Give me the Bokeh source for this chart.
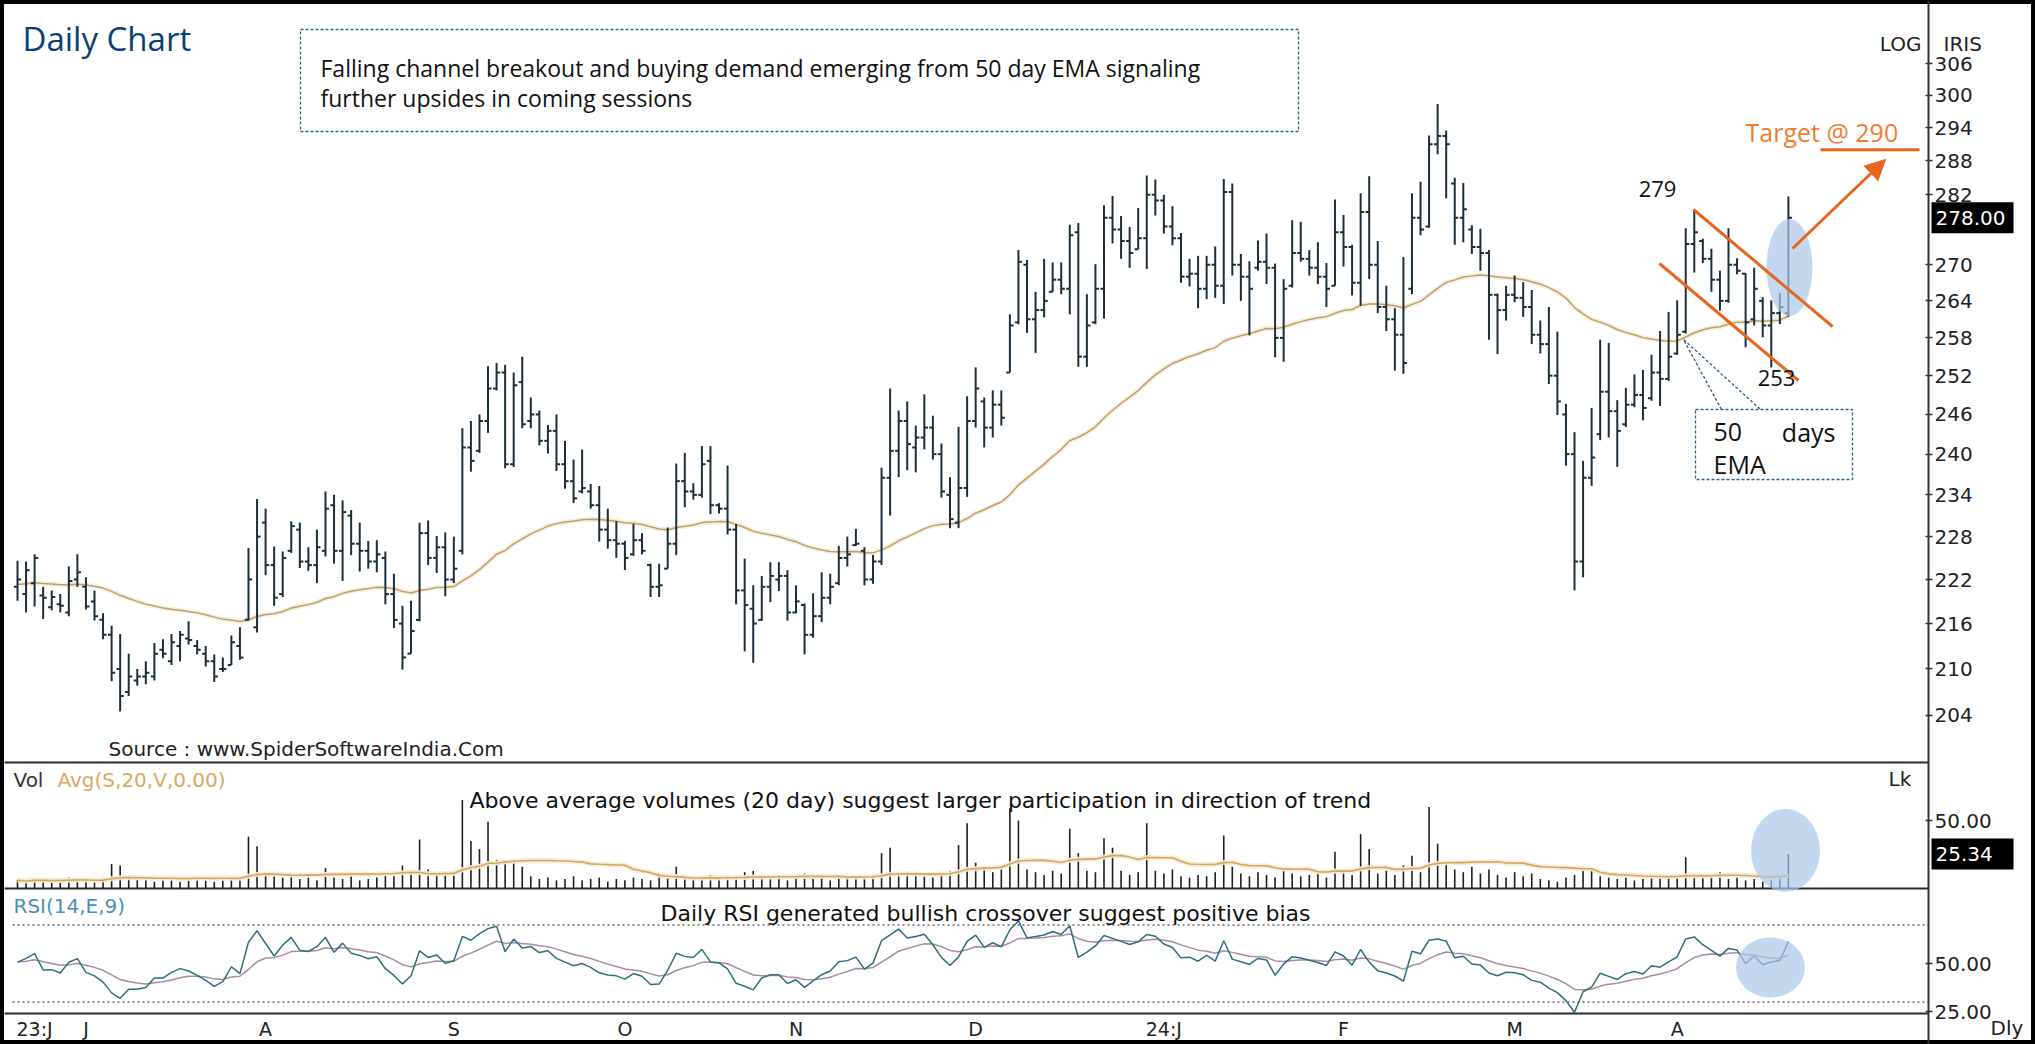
import math
from bokeh.plotting import figure
from bokeh.models import (Range1d, LinearScale, LogAxis, LinearAxis, FixedTicker,
                          PrintfTickFormatter, Arrow, NormalHead)
from bokeh.core.properties import value
from bokeh.embed import file_html
from bokeh.resources import INLINE

# ---------------------------------------------------------------- data
highs = [
    224.6, 224.5, 225.5, 221.0, 220.5, 220.0, 223.8, 225.5, 222.3, 220.5,
    217.4, 215.7, 214.6, 212.0, 210.0, 211.0, 213.4, 213.9, 214.6, 215.0,
    216.3, 213.8, 213.0, 211.9, 211.5, 214.4, 215.5, 226.4, 233.4, 232.0,
    226.6, 225.9, 230.2, 230.0, 226.5, 229.0, 234.5, 234.0, 233.2, 231.8,
    230.0, 227.4, 227.5, 225.9, 222.8, 218.4, 219.1, 230.0, 230.3, 228.1,
    228.6, 228.0, 243.9, 245.0, 246.0, 253.5, 254.0, 253.7, 252.5, 255.0,
    248.6, 246.6, 244.4, 246.0, 242.0, 239.2, 240.7, 235.6, 235.3, 232.0,
    230.2, 227.4, 229.8, 228.5, 224.2, 224.2, 229.3, 238.6, 240.2, 235.7,
    241.2, 241.2, 232.8, 238.3, 229.8, 224.9, 221.2, 222.5, 224.4, 224.4,
    223.3, 221.2, 218.7, 220.1, 223.0, 222.8, 226.7, 228.0, 229.1, 226.5,
    225.4, 238.0, 250.0, 246.6, 248.0, 244.3, 249.1, 245.8, 241.6, 236.6,
    244.1, 248.8, 253.3, 248.6, 249.7, 249.7, 261.8, 272.5, 270.8, 265.5,
    271.0, 270.4, 270.4, 276.8, 277.1, 265.1, 270.1, 280.2, 281.8, 278.3,
    276.4, 279.7, 285.4, 284.7, 282.0, 280.0, 275.4, 271.0, 271.5, 271.5,
    273.1, 284.8, 284.0, 271.8, 270.6, 274.1, 275.3, 270.2, 267.6, 277.6,
    277.3, 272.5, 273.8, 270.3, 281.2, 278.5, 273.4, 282.3, 285.3, 274.0,
    266.5, 262.8, 271.3, 282.3, 284.3, 292.6, 298.4, 293.5, 285.0, 284.1,
    276.7, 276.1, 272.5, 265.2, 266.5, 268.2, 267.1, 265.8, 260.8, 263.0,
    259.0, 247.6, 243.3, 239.0, 247.0, 257.7, 257.2, 248.2, 250.1, 252.2,
    252.9, 255.3, 259.1, 262.2, 264.1, 276.2, 279.4, 274.4, 272.7, 269.0,
    276.2, 271.1, 268.6, 269.5, 264.6, 264.1, 265.3, 281.7,
]
lows = [
    219.1, 217.5, 218.3, 216.6, 217.8, 217.5, 217.0, 221.0, 217.9, 216.4,
    213.9, 208.4, 204.5, 206.5, 207.8, 208.0, 208.5, 211.4, 210.5, 211.0,
    213.2, 211.9, 210.3, 208.3, 209.6, 210.5, 211.2, 216.4, 214.8, 222.6,
    218.4, 219.6, 225.7, 223.6, 223.2, 221.5, 225.2, 224.2, 221.8, 225.4,
    223.1, 223.5, 223.0, 218.6, 215.4, 209.9, 212.0, 216.3, 224.0, 222.9,
    219.7, 221.5, 225.5, 237.4, 240.2, 243.2, 249.7, 237.9, 238.1, 243.9,
    243.9, 241.3, 240.1, 237.5, 234.9, 232.8, 234.2, 232.0, 227.3, 226.3,
    225.0, 223.3, 225.3, 225.5, 219.6, 219.6, 223.5, 225.4, 232.2, 233.3,
    233.6, 231.2, 231.3, 228.3, 218.6, 212.3, 210.8, 216.4, 218.9, 220.4,
    216.4, 217.4, 211.9, 214.1, 216.2, 218.6, 221.2, 223.8, 226.7, 221.2,
    221.4, 224.0, 231.0, 236.6, 237.6, 237.3, 240.7, 239.2, 233.6, 229.2,
    229.2, 233.7, 244.0, 241.0, 242.5, 244.3, 252.5, 260.2, 258.8, 255.6,
    261.3, 265.5, 265.1, 261.8, 253.4, 253.4, 260.2, 261.1, 273.6, 271.0,
    269.5, 272.6, 269.3, 278.4, 275.3, 273.3, 267.0, 266.4, 262.8, 264.3,
    264.5, 263.5, 268.2, 264.0, 258.4, 269.0, 266.8, 254.9, 254.2, 266.2,
    270.5, 268.2, 266.8, 263.0, 266.5, 269.7, 264.9, 263.2, 267.6, 262.0,
    259.1, 252.8, 252.3, 265.1, 275.0, 276.3, 289.2, 281.4, 273.4, 273.8,
    271.8, 269.0, 257.7, 255.4, 260.8, 263.8, 261.4, 257.0, 255.5, 250.7,
    245.9, 238.3, 220.5, 222.3, 235.3, 242.1, 242.5, 238.1, 244.1, 247.1,
    245.1, 248.1, 247.3, 251.2, 255.3, 258.7, 268.7, 270.3, 265.5, 262.4,
    263.7, 268.4, 256.5, 260.0, 258.1, 253.3, 260.2, 261.4,
]
opens = [
    221.0, 220.0, 221.5, 219.8, 218.2, 218.6, 217.5, 222.0, 221.0, 219.0,
    216.5, 214.5, 210.0, 207.0, 208.5, 209.0, 209.0, 212.5, 211.0, 213.0,
    214.0, 213.0, 212.0, 211.0, 210.0, 210.5, 213.0, 216.5, 215.5, 230.0,
    224.0, 220.0, 226.0, 229.0, 224.5, 224.0, 226.0, 232.5, 226.0, 231.0,
    227.0, 226.0, 224.5, 225.0, 220.0, 216.0, 212.0, 216.5, 228.5, 225.0,
    226.5, 222.0, 226.0, 241.0, 240.5, 245.0, 250.0, 252.5, 238.5, 251.0,
    245.0, 246.0, 242.0, 243.5, 238.5, 236.0, 234.5, 234.5, 232.5, 229.0,
    227.5, 227.0, 225.5, 227.5, 224.0, 221.0, 223.5, 227.0, 236.0, 234.5,
    234.0, 239.0, 232.5, 232.0, 229.0, 220.5, 218.0, 216.5, 221.0, 222.0,
    222.5, 217.5, 218.5, 214.5, 217.0, 219.5, 221.5, 225.0, 226.8, 226.0,
    222.0, 224.5, 236.5, 240.5, 245.0, 241.0, 242.5, 244.0, 240.0, 234.0,
    230.0, 235.0, 245.0, 248.0, 244.0, 247.5, 252.5, 260.5, 270.0, 261.0,
    262.5, 265.5, 267.5, 266.0, 275.5, 255.0, 260.5, 266.0, 278.0, 276.0,
    274.0, 272.6, 274.5, 282.0, 281.0, 276.5, 274.5, 268.0, 268.5, 266.0,
    270.0, 266.5, 282.5, 270.0, 268.0, 269.5, 270.5, 269.5, 258.0, 266.5,
    272.0, 271.0, 269.5, 268.0, 266.5, 275.5, 273.0, 267.0, 279.0, 270.0,
    263.0, 261.0, 258.5, 266.0, 278.0, 276.5, 291.0, 292.5, 284.0, 278.0,
    276.0, 273.0, 272.0, 265.0, 262.5, 265.0, 264.5, 263.0, 258.5, 257.0,
    252.0, 246.0, 240.0, 224.5, 236.5, 243.0, 249.5, 246.5, 244.5, 247.5,
    249.0, 248.5, 252.5, 251.5, 255.5, 259.0, 273.5, 274.0, 271.0, 267.5,
    264.0, 270.0, 268.5, 261.0, 264.0, 260.0, 262.0, 262.0,
]
closes = [
    222.0, 223.3, 225.0, 219.5, 219.6, 218.4, 221.8, 223.0, 218.3, 217.0,
    214.5, 209.5, 206.5, 209.0, 209.0, 209.5, 212.0, 212.0, 213.5, 214.5,
    213.8, 212.5, 211.0, 209.0, 210.0, 213.5, 211.5, 222.0, 228.0, 224.0,
    219.5, 225.0, 229.5, 224.5, 224.0, 226.5, 232.0, 226.0, 231.5, 227.0,
    226.0, 224.5, 225.5, 220.0, 216.5, 211.5, 215.0, 228.5, 225.0, 226.5,
    222.0, 223.5, 241.0, 239.0, 245.0, 250.0, 252.5, 238.5, 250.5, 244.5,
    246.0, 242.0, 243.5, 238.5, 236.0, 233.5, 235.0, 232.5, 229.0, 227.5,
    227.0, 225.0, 227.5, 226.0, 221.0, 221.2, 227.0, 236.0, 234.5, 234.0,
    238.5, 232.5, 232.0, 229.0, 220.5, 218.5, 216.0, 221.0, 222.5, 222.5,
    217.5, 219.0, 214.5, 217.0, 219.5, 221.0, 225.0, 225.5, 227.0, 222.0,
    224.5, 236.5, 240.5, 245.0, 241.5, 242.5, 244.0, 240.0, 234.5, 230.5,
    235.0, 245.0, 250.0, 244.0, 247.5, 245.5, 260.0, 270.5, 261.0, 262.5,
    264.0, 267.5, 266.0, 275.0, 255.0, 260.0, 266.0, 278.0, 276.0, 274.0,
    272.0, 274.5, 282.0, 281.0, 276.5, 274.5, 268.0, 268.5, 266.0, 270.0,
    266.5, 282.5, 270.0, 268.0, 266.0, 270.5, 269.5, 258.0, 266.0, 272.0,
    271.0, 269.5, 268.0, 266.0, 275.5, 273.0, 267.0, 279.0, 270.0, 263.0,
    261.0, 258.5, 254.0, 278.0, 276.0, 291.0, 292.5, 291.0, 278.0, 279.5,
    273.0, 272.0, 265.0, 262.5, 265.0, 264.5, 263.0, 258.5, 257.0, 252.0,
    248.0, 240.0, 224.5, 236.5, 239.5, 249.5, 246.5, 243.5, 247.5, 249.0,
    247.0, 252.5, 251.5, 255.0, 258.5, 273.5, 275.5, 271.0, 267.5, 264.0,
    270.0, 269.0, 260.5, 266.0, 260.0, 262.0, 263.0, 278.0,
]
volume = [  # lakh shares
    6, 5, 7, 6, 5, 6, 8, 7, 6, 5,
    7, 18, 17, 9, 7, 6, 5, 6, 7, 5,
    6, 8, 6, 5, 6, 7, 6, 38, 31, 12,
    9, 8, 10, 7, 8, 6, 15, 8, 7, 9,
    6, 7, 8, 10, 9, 17, 12, 36, 14, 10,
    12, 11, 65, 35, 29, 49, 21, 21, 20, 16,
    9, 7, 8, 6, 7, 9, 6, 7, 8, 5,
    7, 6, 8, 7, 6, 9, 8, 16, 9, 7,
    8, 10, 7, 9, 8, 12, 13, 8, 7, 9,
    6, 8, 11, 7, 8, 6, 9, 8, 7, 9,
    10, 26, 30, 11, 12, 10, 9, 8, 10, 13,
    32, 48, 19, 14, 12, 15, 59, 50, 14, 12,
    10, 13, 11, 44, 26, 13, 12, 37, 30, 13,
    10, 12, 48, 13, 11, 14, 9, 8, 10, 9,
    12, 39, 16, 11, 9, 12, 10, 8, 13, 11,
    9, 10, 12, 8, 27, 12, 10, 40, 29, 11,
    13, 10, 17, 24, 12, 60, 33, 18, 14, 12,
    16, 11, 14, 10, 8, 12, 9, 11, 7, 6,
    5, 8, 10, 14, 13, 9, 8, 7, 8, 6,
    7, 9, 10, 8, 9, 23, 10, 8, 9, 12,
    7, 8, 6, 7, 5, 6, 9, 25.34,
]
price_ticks = [204, 210, 216, 222, 228, 234, 240, 246, 252, 258, 264, 270,
               282, 288, 294, 300, 306]
vol_ticks = [50]
rsi_ticks = [25, 50]
rsi_bands = [70, 30]
month_labels = ["23:J", "J", "A", "S", "O", "N", "D", "24:J", "F", "M", "A"]
month_pos = [2, 8, 29, 51, 71, 91, 112, 134, 155, 175, 194]
last_close = 278.00
last_volume = 25.34
swing_high = 279
swing_low = 253
target = 290

# indicator settings (as in the chart legends)
EMA_N, VOL_N, RSI_N, SIG_N = 50, 20, 14, 9
EMA_START = 221.3          # 50 day EMA at the first visible bar
RSI_PREV_CLOSE = 221.5     # close before first visible bar


def ema(vals, n, seed):
    k = 2.0 / (n + 1)
    out, e = [], seed
    for v in vals:
        e = e + k * (v - e)
        out.append(e)
    return out


ema50 = ema(closes, EMA_N, EMA_START)
vol_avg = [sum(volume[max(0, i - VOL_N + 1):i + 1]) / len(volume[max(0, i - VOL_N + 1):i + 1])
           for i in range(len(volume))]
rsi = []
ag, al, prev = 1.3, 1.3, RSI_PREV_CLOSE
for c in closes:
    ch = c - prev
    ag = (ag * (RSI_N - 1) + max(ch, 0)) / RSI_N
    al = (al * (RSI_N - 1) + max(-ch, 0)) / RSI_N
    rsi.append(100 - 100 / (1 + ag / al))
    prev = c
rsi_sig = ema(rsi, SIG_N, rsi[0])
idx = list(range(len(closes)))

# ---------------------------------------------------------------- layout
W, H = 2035, 1044
L_PX, R_PX, T_PX, B_PX = 0, W, 0, H
X0, DX = 17.0, 8.555


def xd(px):            # page x pixel -> bar index
    return (px - X0) / DX


def pp(py):            # page y pixel -> price (log panel)
    return 306.0 * math.exp((63.0 - py) / 1608.0)


def vv(py):            # page y pixel -> volume (lakh)
    return (888.0 - py) / 1.36


def rr(py):            # page y pixel -> RSI
    return 50.0 + (963.0 - py) / 1.92


AX = xd(1928)

BAR = "#1b2e3c"
ORANGE = "#e8651e"
BLUE = "#2f5f8f"
ELL = "#a9c6e8"

p = figure(width=W, height=H, x_range=Range1d(xd(L_PX), xd(R_PX)),
           y_range=Range1d(pp(B_PX), pp(T_PX)), y_axis_type="log",
           x_axis_location=None, y_axis_location=None, title=None,
           toolbar_location=None, output_backend="svg", min_border=0)
p.extra_y_ranges = {"vol": Range1d(vv(B_PX), vv(T_PX)), "rsi": Range1d(rr(B_PX), rr(T_PX))}
p.extra_y_scales = {"vol": LinearScale(), "rsi": LinearScale()}
p.grid.visible = False
p.outline_line_color = "black"
p.outline_line_width = 7
p.background_fill_color = "white"
p.border_fill_color = "white"

# panel separators
p.segment(x0=[xd(4)] * 2, y0=[vv(762), vv(888)], x1=[AX] * 2, y1=[vv(762), vv(888)],
          y_range_name="vol", line_color="#2a2a2a", line_width=2)
p.segment(x0=[xd(4)], y0=[rr(1013)], x1=[AX], y1=[rr(1013)],
          y_range_name="rsi", line_color="#2a2a2a", line_width=2)
p.segment(x0=[xd(12)] * 2, y0=rsi_bands, x1=[AX] * 2, y1=rsi_bands, y_range_name="rsi",
          line_color="#6b6b6b", line_width=1.5, line_dash="2 3")

# annotation box (top)
p.quad(left=[xd(300)], right=[xd(1298)], top=[pp(29)], bottom=[pp(131)],
       fill_color="white", line_color=BLUE, line_dash="3 2", line_width=1.3)

# EMA
p.line(idx, ema50, line_color="#f6eedd", line_width=5, line_alpha=0.9)
p.line(idx, ema50, line_color="#bf9f66", line_width=1.5)

# OHLC bars
p.segment(x0=idx, y0=lows, x1=idx, y1=highs, line_color=BAR, line_width=2)
p.segment(x0=[i - 0.42 for i in idx], y0=opens, x1=idx, y1=opens, line_color=BAR, line_width=2)
p.segment(x0=idx, y0=closes, x1=[i + 0.42 for i in idx], y1=closes, line_color=BAR, line_width=2)

# volume
p.segment(x0=idx, y0=[0] * len(idx), x1=idx, y1=volume, y_range_name="vol",
          line_color="#1e1e1e", line_width=1.6)
p.line(idx, vol_avg, y_range_name="vol", line_color="#f7eace", line_width=5, line_alpha=0.9)
p.line(idx, vol_avg, y_range_name="vol", line_color="#d2a764", line_width=1.6)

# RSI
p.line(idx, rsi_sig, y_range_name="rsi", line_color="#a68c9e", line_width=1.5)
p.line(idx, rsi, y_range_name="rsi", line_color="#2e6e80", line_width=1.5)

# highlight ellipses
p.ellipse(x=[xd(1789)], y=[pp(267)], width=46, height=97, width_units="screen",
          height_units="screen", fill_color=ELL, fill_alpha=0.7, line_color=None)
p.ellipse(x=[xd(1785)], y=[vv(850)], width=69, height=83, width_units="screen",
          height_units="screen", y_range_name="vol", fill_color=ELL, fill_alpha=0.7, line_color=None)
p.ellipse(x=[xd(1770)], y=[rr(967)], width=69, height=60, width_units="screen",
          height_units="screen", y_range_name="rsi", fill_color=ELL, fill_alpha=0.7, line_color=None)

# channel, target, arrow
p.line([xd(1693), xd(1832)], [pp(209), pp(326)], line_color=ORANGE, line_width=3)
p.line([xd(1659), xd(1798)], [pp(263), pp(380)], line_color=ORANGE, line_width=3)
p.line([xd(1820), xd(1919)], [target, target], line_color=ORANGE, line_width=3)
p.add_layout(Arrow(end=NormalHead(size=20, fill_color=ORANGE, line_color=ORANGE),
                   x_start=xd(1792), y_start=pp(248), x_end=xd(1885), y_end=pp(159),
                   line_color=ORANGE, line_width=3))

# 50 days EMA call-out
p.line([xd(1721), xd(1683), xd(1760)], [pp(409), pp(339), pp(409)],
       line_color=BLUE, line_dash="3 2", line_width=1.3)
p.quad(left=[xd(1695)], right=[xd(1852)], top=[pp(409)], bottom=[pp(479)],
       fill_color="white", line_color=BLUE, line_dash="3 2", line_width=1.3)


def label(x, y, s, size, color="#111111", font="Open Sans", align="left", rng=None):
    kw = {} if rng is None else {"y_range_name": rng}
    p.text(x=[x], y=[y], text=[s], text_font=value(font), text_font_size=size,
           text_color=color, text_align=align, text_baseline="middle", **kw)


label(xd(22), pp(38), "Daily Chart", "33px", color="#0b3f73")
label(xd(320), pp(67), "Falling channel breakout and buying demand emerging from 50 day EMA signaling", "23px")
label(xd(320), pp(97), "further upsides in coming sessions", "23px")
label(xd(108), pp(748), "Source : www.SpiderSoftwareIndia.Com", "20px", color="#222222", font="DejaVu Sans")
label(xd(1657), pp(188), str(swing_high), "22px", align="center")
label(xd(1776), pp(377), str(swing_low), "22px", align="center")
label(xd(1745), pp(131), "Target @ %d" % target, "25px", color="#ee7d31")
label(xd(1713), pp(431), "50", "25px")
label(xd(1835), pp(431), "days", "25px", align="right")
label(xd(1713), pp(463), "EMA", "25px")
label(xd(1921), pp(43), "LOG", "20px", color="#222222", font="DejaVu Sans", align="right")
label(xd(1943), pp(43), "IRIS", "20px", color="#222222", font="DejaVu Sans")

label(xd(13), vv(779), "Vol", "20px", color="#333333", font="DejaVu Sans", rng="vol")
label(xd(57), vv(779), "Avg(S,20,V,0.00)", "20px", color="#d9a860", font="DejaVu Sans", rng="vol")
label(xd(469), vv(800), "Above average volumes (20 day) suggest larger participation in direction of trend",
      "22px", font="DejaVu Sans", rng="vol")
label(xd(1888), vv(778), "Lk", "20px", color="#222222", font="DejaVu Sans", rng="vol")

label(xd(13), rr(905), "RSI(14,E,9)", "20px", color="#4b8fb5", font="DejaVu Sans", rng="rsi")
label(xd(660), rr(913), "Daily RSI generated bullish crossover suggest positive bias", "22px",
      font="DejaVu Sans", rng="rsi")
label(xd(1990), rr(1027), "Dly", "20px", color="#222222", font="DejaVu Sans", rng="rsi")

# last value boxes
p.rect(x=[xd(1972)], y=[last_close], width=82, height=31, width_units="screen",
       height_units="screen", fill_color="black", line_color=None)
label(xd(1935), last_close, "%.2f" % last_close, "20px", color="white", font="DejaVu Sans")
p.rect(x=[xd(1972)], y=[last_volume], width=82, height=31, width_units="screen",
       height_units="screen", fill_color="black", line_color=None, y_range_name="vol")
label(xd(1935), last_volume, "%.2f" % last_volume, "20px", color="white", font="DejaVu Sans", rng="vol")


# ---------------------------------------------------------------- axes
def style(ax, line=True):
    ax.axis_line_color = "#333333" if line else None
    ax.axis_line_width = 2
    ax.major_tick_line_color = "#333333"
    ax.major_tick_line_width = 1.5
    ax.major_tick_in = 3
    ax.major_tick_out = 4
    ax.minor_tick_line_color = None
    ax.major_label_text_font = "DejaVu Sans"
    ax.major_label_text_font_size = "20px"
    ax.major_label_text_color = "#222222"
    ax.major_label_standoff = 2


pax = LogAxis(ticker=FixedTicker(ticks=price_ticks), formatter=PrintfTickFormatter(format="%d"),
              fixed_location=AX)
style(pax)
p.add_layout(pax, "right")

vax = LinearAxis(y_range_name="vol", ticker=FixedTicker(ticks=vol_ticks),
                 formatter=PrintfTickFormatter(format="%.2f"), fixed_location=AX)
style(vax, line=False)
p.add_layout(vax, "right")

rax = LinearAxis(y_range_name="rsi", ticker=FixedTicker(ticks=rsi_ticks),
                 formatter=PrintfTickFormatter(format="%.2f"), fixed_location=AX)
style(rax, line=False)
p.add_layout(rax, "right")

xax = LinearAxis(y_range_name="rsi", ticker=FixedTicker(ticks=month_pos),
                 major_label_overrides={pos: lab for pos, lab in zip(month_pos, month_labels)},
                 fixed_location=rr(1013))
xax.axis_line_color = None
xax.major_tick_line_color = None
xax.major_tick_out = 0
xax.major_tick_in = 0
xax.minor_tick_line_color = None
xax.major_label_standoff = 4
xax.major_label_text_font = "DejaVu Sans"
xax.major_label_text_font_size = "19px"
xax.major_label_text_color = "#222222"
p.add_layout(xax, "below")

open("out.html", "w").write(file_html(p, INLINE))
